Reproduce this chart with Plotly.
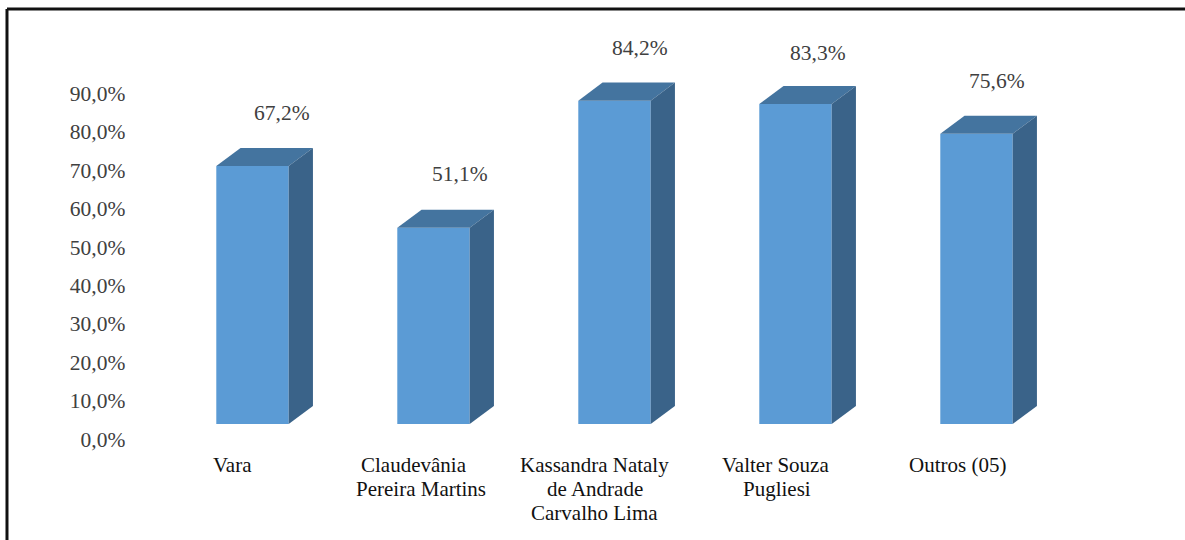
import plotly.graph_objects as go

categories = [["Vara"], ["Claudevânia", "Pereira Martins"], ["Kassandra Nataly", "de Andrade", "Carvalho Lima"], ["Valter Souza", "Pugliesi"], ["Outros (05)"]]
values = [67.2, 51.1, 84.2, 83.3, 75.6]
value_labels = ["67,2%", "51,1%", "84,2%", "83,3%", "75,6%"]
y_ticks = [0, 10, 20, 30, 40, 50, 60, 70, 80, 90]
y_tick_labels = ["0,0%", "10,0%", "20,0%", "30,0%", "40,0%", "50,0%", "60,0%", "70,0%", "80,0%", "90,0%"]

FRONT = "#5B9BD5"
TOP = "#44749F"
SIDE = "#3A6389"
FONT = "Liberation Serif"
W = 0.40
DX = 0.134
DY = 4.7
BASE = 4.17
X_RANGE = [-1.395, 5.152]
Y_RANGE = [-26.04, 114.58]
VALUE_DX = [0.163, 0.146, 0.141, 0.124, 0.113]
VALUE_SHIFT = [0, 1, 0, -2, 0]
LINE_DX = [[-0.11], [-0.11, -0.07], [-0.11, -0.11, -0.11], [-0.11, -0.10], [-0.105]]

fig = go.Figure()
xs = list(range(len(values)))
fig.add_trace(go.Bar(x=xs, y=values, base=BASE, width=W, marker=dict(color=FRONT, line_width=0), hoverinfo="skip"))
for x, v in zip(xs, values):
    l, r = x - W / 2, x + W / 2
    t = BASE + v
    fig.add_trace(go.Scatter(x=[l, r, r + DX, l + DX, l], y=[t, t, t + DY, t + DY, t], mode="lines",
                             fill="toself", fillcolor=TOP, line=dict(width=0), hoverinfo="skip"))
    fig.add_trace(go.Scatter(x=[r, r + DX, r + DX, r, r], y=[BASE, BASE + DY, t + DY, t, BASE], mode="lines",
                             fill="toself", fillcolor=SIDE, line=dict(width=0), hoverinfo="skip"))

for x, v, s, d, sh in zip(xs, values, value_labels, VALUE_DX, VALUE_SHIFT):
    fig.add_annotation(x=x + d, y=v + 18, yshift=sh, text=s, showarrow=False, xanchor="center", yanchor="middle",
                       font=dict(family=FONT, size=21.5, color="#404040"))
for x, lines, ds in zip(xs, categories, LINE_DX):
    for i, (line, d) in enumerate(zip(lines, ds)):
        fig.add_annotation(x=x + d, y=-6.5, yshift=-24 * i, text=line, showarrow=False, xanchor="center", yanchor="middle",
                           font=dict(family=FONT, size=21, color="#111111"))

# frame of the picture: top and left edges only
fig.add_shape(type="line", xref="paper", yref="paper", x0=0.0059, x1=1, y0=0.9835, y1=0.9835, line=dict(color="#111111", width=3))
fig.add_shape(type="line", xref="paper", yref="paper", x0=0.0059, x1=0.0059, y0=0, y1=0.9835, line=dict(color="#111111", width=3))

fig.update_layout(
    width=1185, height=540, margin=dict(l=0, r=0, t=0, b=0), showlegend=False,
    paper_bgcolor="white", plot_bgcolor="white",
    xaxis=dict(range=X_RANGE, visible=False, domain=[0, 1]),
    yaxis=dict(range=Y_RANGE, domain=[0, 1], anchor="free", position=0.1058, tickmode="array", tickvals=y_ticks,
               ticktext=y_tick_labels, showgrid=False, zeroline=False, showline=False, ticks="",
               ticklabelshift=-1,
               tickfont=dict(family=FONT, size=21.5, color="#404040")),
)
fig.write_html("out.html", config={"displayModeBar": False},
               post_script="document.body.style.margin='0';document.documentElement.style.overflow='hidden';")
